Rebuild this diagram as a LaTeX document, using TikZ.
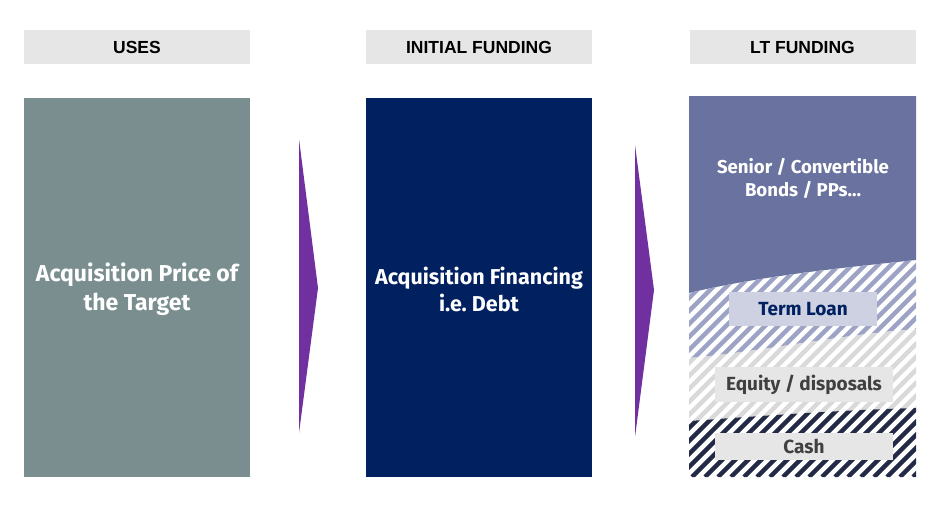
\documentclass[tikz,border=0pt]{standalone}
\usepackage{fontspec}
\setmainfont{Fira Sans}
\newfontfamily\headfont{Liberation Sans}
\usepackage{tikz}
\usetikzlibrary{positioning}

\definecolor{hdrgrey}{HTML}{E6E6E6}
\definecolor{usesgrey}{HTML}{7A8E90}
\definecolor{navy}{HTML}{002060}
\definecolor{slate}{HTML}{6A739F}
\definecolor{fpurple}{HTML}{7030A0}
\definecolor{tlhatch}{HTML}{9DA3C4}
\definecolor{eqhatch}{HTML}{D9D9D9}
\definecolor{cashhatch}{HTML}{222A45}
\definecolor{tlbox}{HTML}{CDD1E1}
\definecolor{txtgrey}{HTML}{404040}

\tikzset{
  hdr/.style={fill=hdrgrey, minimum width=226pt, minimum height=34pt, inner sep=0pt,
    font=\headfont\bfseries\fontsize{17.5}{19}\selectfont},
  block/.style={minimum width=226pt, minimum height=379pt, inner sep=0pt, align=center,
    text=white, font=\bfseries\fontsize{23}{29}\selectfont},
  tag/.style={inner sep=0pt, font=\bfseries\fontsize{19}{21}\selectfont},
  stripe/.style={line width=4.5pt}
}

\begin{document}
\begin{tikzpicture}[x=1pt, y=-1pt]
\newcommand{\Ltx}{689}; % left edge of LT funding column
\newcommand{\Rtx}{916}; % right edge of LT funding column

\useasboundingbox (0,0) rectangle (942,506);

% column headers
\node[hdr] (huses) at (137,47) {USES};
\node[hdr] (hinit) at (479,47) {INITIAL FUNDING};
\node[hdr] (hlt)   at (802.5,47) {LT FUNDING};

% uses and initial funding
\node[block, fill=usesgrey] (uses) at (137,287.5) {};
\node[white, align=center, font=\bfseries\fontsize{23}{29}\selectfont] (price) at (137,289.5)
  {Acquisition Price of\\the Target};
\node[block, fill=navy] (init) at (479,287.5) {};
\node[white, align=center, font=\bfseries\fontsize{21.5}{27}\selectfont] (debt) at (479,289)
  {Acquisition Financing\\i.e.\ Debt};

% arrows
\fill[fpurple] (299,139) -- (318,288) -- (299,433) -- cycle;
\fill[fpurple] (635,145) -- (654,290) -- (635,437) -- cycle;

% LT funding: senior bonds
\fill[slate] (\Ltx,96) -- (\Rtx,96) -- (\Rtx,260)
  .. controls (840,268) and (760,276) .. (\Ltx,293) -- cycle;

% LT funding: term loan stripes
\begin{scope}
\clip (\Ltx,293) .. controls (760,276) and (840,268) .. (\Rtx,260)
  -- (\Rtx,329) .. controls (830,336) and (760,352) .. (\Ltx,358) -- cycle;
\foreach \i in {-400,-387,...,260}
  \draw[stripe, tlhatch] (\Ltx+\i,477) -- ++(400,-400);
\end{scope}

% LT funding: equity stripes
\begin{scope}
\clip (\Ltx,358) .. controls (760,352) and (830,336) .. (\Rtx,329)
  -- (\Rtx,408) .. controls (840,410) and (760,416) .. (\Ltx,421) -- cycle;
\foreach \i in {-400,-387,...,260}
  \draw[stripe, eqhatch] (\Ltx+\i,477) -- ++(400,-400);
\end{scope}

% LT funding: cash stripes
\begin{scope}
\clip (\Ltx,421) .. controls (760,416) and (840,410) .. (\Rtx,408)
  -- (\Rtx,477) -- (\Ltx,477) -- cycle;
\foreach \i in {-400,-387,...,260}
  \draw[stripe, cashhatch] (\Ltx+\i,477) -- ++(400,-400);
\end{scope}

% labels
\node[align=center, text=white, font=\bfseries\fontsize{18.6}{23}\selectfont] (senior) at (803,178.5)
  {Senior / Convertible\\Bonds / PPs…};
\node[tag, fill=tlbox, text=navy, minimum width=148pt, minimum height=34pt] (tloan) at (803,309) {Term Loan};
\node[tag, fill=hdrgrey, text=txtgrey, minimum width=178pt, minimum height=35pt] (equity) at (804,384.5) {Equity / disposals};
\node[tag, fill=hdrgrey, text=txtgrey, minimum width=178pt, minimum height=27pt] (cash) at (804,446.5) {Cash};
\end{tikzpicture}
\end{document}
